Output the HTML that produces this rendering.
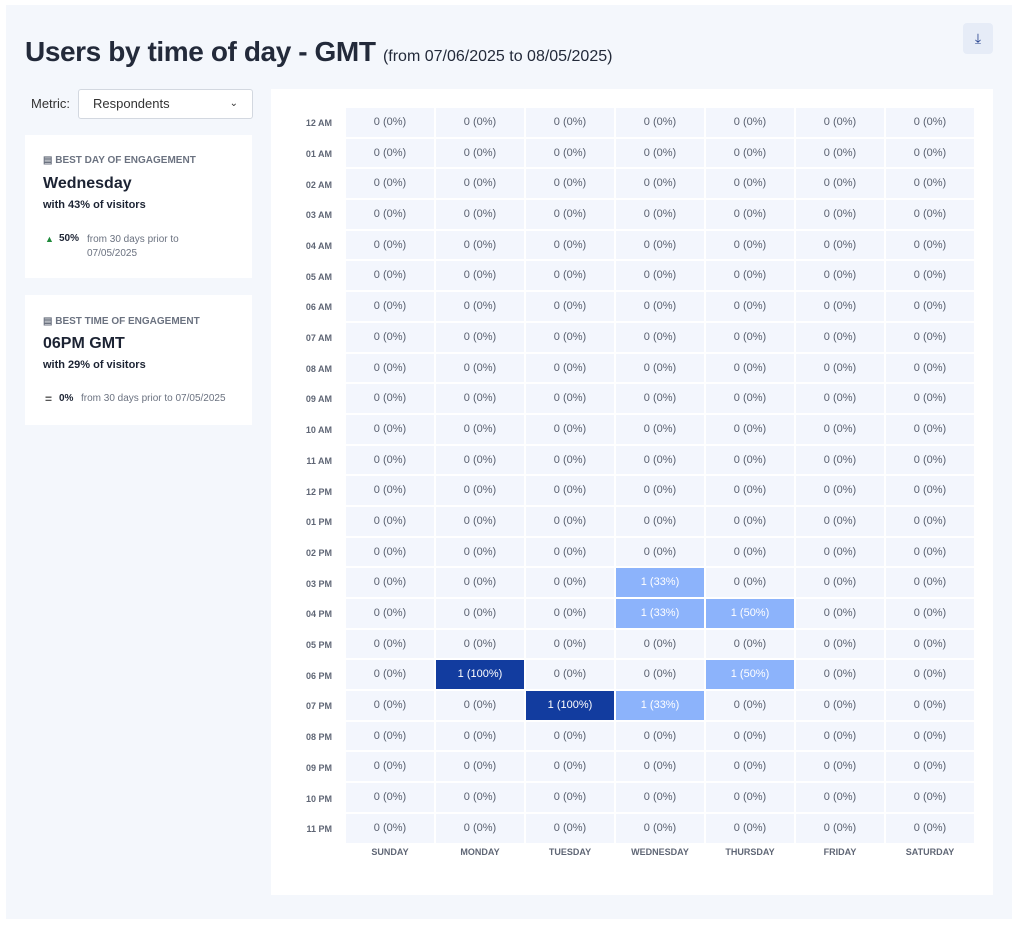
<!DOCTYPE html>
<html><head><meta charset="utf-8"><style>
*{box-sizing:border-box;margin:0;padding:0}
body{width:1024px;height:929px;background:#fff;font-family:"Liberation Sans",sans-serif;position:relative;overflow:hidden}
.outer{position:absolute;left:6px;top:5px;width:1006px;height:914px;background:#f4f7fc}
.a{position:absolute}
h1{position:absolute;left:25px;top:36px;font-size:28px;font-weight:bold;color:#232a3a;white-space:nowrap;letter-spacing:-0.4px}
h1 span{font-size:16px;font-weight:normal;letter-spacing:0}
.dl{left:963px;top:23px;width:30px;height:31px;background:#e6ecf7;border-radius:4px;color:#1f3c8a;font-size:14px;text-align:center;line-height:31px}
.sel{left:78px;top:89px;width:175px;height:30px;background:#fff;border:1px solid #d3d8e0;border-radius:3px;font-size:13px;color:#333;padding-left:14px;line-height:28px}
.card{left:25px;width:227px;background:#fff}
.lab{font-size:10px;color:#6b7280;font-weight:bold}
.big{font-size:16px;color:#1c2333;font-weight:bold}
.sub{font-size:11px;color:#1c2333;font-weight:bold}
.sm{font-size:10px;color:#6b7280}
.panel{left:271px;top:89px;width:722px;height:806px;background:#fff}
.grid{position:absolute;left:346px;top:108px;display:grid;grid-template-columns:repeat(7,88px);grid-auto-rows:28.7px;gap:2px}
.grid div{background:#f3f6fd;color:#5a6170;font-size:11px;text-align:center;line-height:29.7px}
.grid .l{background:#8cb3fb;color:#fff}
.grid .d{background:#123c9f;color:#fff}
.rl{position:absolute;left:290px;width:42px;text-align:right;font-size:9px;font-weight:bold;color:#5f6675}
.dy{position:absolute;top:847px;width:88px;text-align:center;font-size:9px;font-weight:bold;color:#5f6675}
</style></head><body>
<div class="outer"></div>
<h1>Users by time of day - GMT <span>(from 07/06/2025 to 08/05/2025)</span></h1>
<div class="a dl">&#10515;</div>
<div class="a" style="left:31px;top:96px;font-size:13px;color:#333">Metric:</div>
<div class="a sel">Respondents<span style="position:absolute;right:14px;top:0;font-size:10px">&#8964;</span></div>
<div class="a card" style="top:135px;height:143px">
 <div class="a lab" style="left:18px;top:20px">&#9636; BEST DAY OF ENGAGEMENT</div>
 <div class="a big" style="left:18px;top:40px">Wednesday</div>
 <div class="a sub" style="left:18px;top:64px">with 43% of visitors</div>
 <div class="a" style="left:20px;top:99px;font-size:9px;color:#1f8a3b">&#9650;</div>
 <div class="a" style="left:34px;top:98px;font-size:10px;font-weight:bold;color:#1c2333">50%</div>
 <div class="a sm" style="left:62px;top:98px;line-height:14px">from 30 days prior to<br>07/05/2025</div>
</div>
<div class="a card" style="top:295px;height:130px">
 <div class="a lab" style="left:18px;top:21px">&#9636; BEST TIME OF ENGAGEMENT</div>
 <div class="a big" style="left:18px;top:40px">06PM GMT</div>
 <div class="a sub" style="left:18px;top:64px">with 29% of visitors</div>
 <div class="a" style="left:20px;top:97px;font-size:12px;color:#555;font-weight:bold">=</div>
 <div class="a" style="left:34px;top:98px;font-size:10px;font-weight:bold;color:#1c2333">0%</div>
 <div class="a sm" style="left:56px;top:98px">from 30 days prior to 07/05/2025</div>
</div>
<div class="a panel"></div>
<div class="rl" style="top:118px">12 AM</div><div class="rl" style="top:149px">01 AM</div><div class="rl" style="top:180px">02 AM</div><div class="rl" style="top:210px">03 AM</div><div class="rl" style="top:241px">04 AM</div><div class="rl" style="top:272px">05 AM</div><div class="rl" style="top:302px">06 AM</div><div class="rl" style="top:333px">07 AM</div><div class="rl" style="top:364px">08 AM</div><div class="rl" style="top:394px">09 AM</div><div class="rl" style="top:425px">10 AM</div><div class="rl" style="top:456px">11 AM</div><div class="rl" style="top:487px">12 PM</div><div class="rl" style="top:517px">01 PM</div><div class="rl" style="top:548px">02 PM</div><div class="rl" style="top:579px">03 PM</div><div class="rl" style="top:609px">04 PM</div><div class="rl" style="top:640px">05 PM</div><div class="rl" style="top:671px">06 PM</div><div class="rl" style="top:701px">07 PM</div><div class="rl" style="top:732px">08 PM</div><div class="rl" style="top:763px">09 PM</div><div class="rl" style="top:794px">10 PM</div><div class="rl" style="top:824px">11 PM</div>
<div class="grid">
<div>0 (0%)</div><div>0 (0%)</div><div>0 (0%)</div><div>0 (0%)</div><div>0 (0%)</div><div>0 (0%)</div><div>0 (0%)</div>
<div>0 (0%)</div><div>0 (0%)</div><div>0 (0%)</div><div>0 (0%)</div><div>0 (0%)</div><div>0 (0%)</div><div>0 (0%)</div>
<div>0 (0%)</div><div>0 (0%)</div><div>0 (0%)</div><div>0 (0%)</div><div>0 (0%)</div><div>0 (0%)</div><div>0 (0%)</div>
<div>0 (0%)</div><div>0 (0%)</div><div>0 (0%)</div><div>0 (0%)</div><div>0 (0%)</div><div>0 (0%)</div><div>0 (0%)</div>
<div>0 (0%)</div><div>0 (0%)</div><div>0 (0%)</div><div>0 (0%)</div><div>0 (0%)</div><div>0 (0%)</div><div>0 (0%)</div>
<div>0 (0%)</div><div>0 (0%)</div><div>0 (0%)</div><div>0 (0%)</div><div>0 (0%)</div><div>0 (0%)</div><div>0 (0%)</div>
<div>0 (0%)</div><div>0 (0%)</div><div>0 (0%)</div><div>0 (0%)</div><div>0 (0%)</div><div>0 (0%)</div><div>0 (0%)</div>
<div>0 (0%)</div><div>0 (0%)</div><div>0 (0%)</div><div>0 (0%)</div><div>0 (0%)</div><div>0 (0%)</div><div>0 (0%)</div>
<div>0 (0%)</div><div>0 (0%)</div><div>0 (0%)</div><div>0 (0%)</div><div>0 (0%)</div><div>0 (0%)</div><div>0 (0%)</div>
<div>0 (0%)</div><div>0 (0%)</div><div>0 (0%)</div><div>0 (0%)</div><div>0 (0%)</div><div>0 (0%)</div><div>0 (0%)</div>
<div>0 (0%)</div><div>0 (0%)</div><div>0 (0%)</div><div>0 (0%)</div><div>0 (0%)</div><div>0 (0%)</div><div>0 (0%)</div>
<div>0 (0%)</div><div>0 (0%)</div><div>0 (0%)</div><div>0 (0%)</div><div>0 (0%)</div><div>0 (0%)</div><div>0 (0%)</div>
<div>0 (0%)</div><div>0 (0%)</div><div>0 (0%)</div><div>0 (0%)</div><div>0 (0%)</div><div>0 (0%)</div><div>0 (0%)</div>
<div>0 (0%)</div><div>0 (0%)</div><div>0 (0%)</div><div>0 (0%)</div><div>0 (0%)</div><div>0 (0%)</div><div>0 (0%)</div>
<div>0 (0%)</div><div>0 (0%)</div><div>0 (0%)</div><div>0 (0%)</div><div>0 (0%)</div><div>0 (0%)</div><div>0 (0%)</div>
<div>0 (0%)</div><div>0 (0%)</div><div>0 (0%)</div><div class="l">1 (33%)</div><div>0 (0%)</div><div>0 (0%)</div><div>0 (0%)</div>
<div>0 (0%)</div><div>0 (0%)</div><div>0 (0%)</div><div class="l">1 (33%)</div><div class="l">1 (50%)</div><div>0 (0%)</div><div>0 (0%)</div>
<div>0 (0%)</div><div>0 (0%)</div><div>0 (0%)</div><div>0 (0%)</div><div>0 (0%)</div><div>0 (0%)</div><div>0 (0%)</div>
<div>0 (0%)</div><div class="d">1 (100%)</div><div>0 (0%)</div><div>0 (0%)</div><div class="l">1 (50%)</div><div>0 (0%)</div><div>0 (0%)</div>
<div>0 (0%)</div><div>0 (0%)</div><div class="d">1 (100%)</div><div class="l">1 (33%)</div><div>0 (0%)</div><div>0 (0%)</div><div>0 (0%)</div>
<div>0 (0%)</div><div>0 (0%)</div><div>0 (0%)</div><div>0 (0%)</div><div>0 (0%)</div><div>0 (0%)</div><div>0 (0%)</div>
<div>0 (0%)</div><div>0 (0%)</div><div>0 (0%)</div><div>0 (0%)</div><div>0 (0%)</div><div>0 (0%)</div><div>0 (0%)</div>
<div>0 (0%)</div><div>0 (0%)</div><div>0 (0%)</div><div>0 (0%)</div><div>0 (0%)</div><div>0 (0%)</div><div>0 (0%)</div>
<div>0 (0%)</div><div>0 (0%)</div><div>0 (0%)</div><div>0 (0%)</div><div>0 (0%)</div><div>0 (0%)</div><div>0 (0%)</div>
</div>
<div class="dy" style="left:346px">SUNDAY</div><div class="dy" style="left:436px">MONDAY</div><div class="dy" style="left:526px">TUESDAY</div><div class="dy" style="left:616px">WEDNESDAY</div><div class="dy" style="left:706px">THURSDAY</div><div class="dy" style="left:796px">FRIDAY</div><div class="dy" style="left:886px">SATURDAY</div>
</body></html>
